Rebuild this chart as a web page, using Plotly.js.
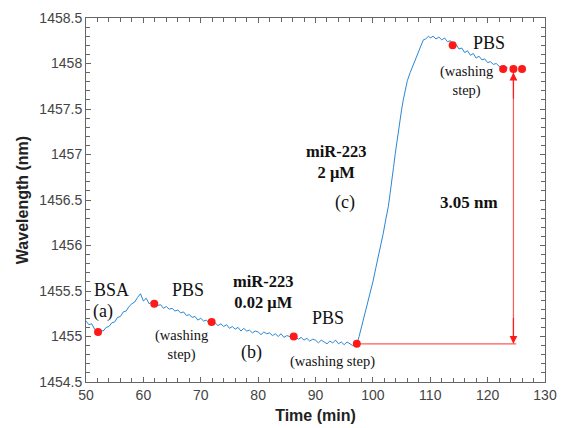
<!DOCTYPE html>
<html>
<head>
<meta charset="utf-8">
<script src="https://cdn.plot.ly/plotly-3.0.1.min.js"></script>
<style>html,body{margin:0;padding:0;background:#fff;}#chart{width:569px;height:428px;}</style>
</head>
<body>
<div id="chart"></div>
<script>
// Sensor trace (time in min, resonance wavelength in nm)
const timeMin = [
  50.0,50.5,51.0,51.5,52.0,52.5,53.0,53.5,54.0,54.5,55.0,55.5,56.0,56.5,57.0,57.5,58.0,58.5,59.0,59.5,
  60.0,60.5,61.0,61.5,62.0,62.5,63.0,63.5,64.0,64.5,65.0,65.5,66.0,66.5,67.0,67.5,68.0,68.5,69.0,69.5,
  70.0,70.5,71.0,71.5,72.0,72.5,73.0,73.5,74.0,74.5,75.0,75.5,76.0,76.5,77.0,77.5,78.0,78.5,79.0,79.5,
  80.0,80.5,81.0,81.5,82.0,82.5,83.0,83.5,84.0,84.5,85.0,85.5,86.0,86.5,87.0,87.5,88.0,88.5,89.0,89.5,
  90.0,90.5,91.0,91.5,92.0,92.5,93.0,93.5,94.0,94.5,95.0,95.5,96.0,96.5,97.0,97.2,
  97.6,98.0,98.5,98.9,99.5,100.0,100.5,101.1,101.5,101.8,102.2,102.7,103.0,103.3,103.6,103.9,104.3,104.7,
  105.0,105.3,105.6,106.0,106.5,107.0,107.5,107.9,108.4,108.8,109.2,109.7,
  110.0,110.5,111.0,111.5,112.0,112.5,113.0,113.5,114.0,114.5,115.0,115.5,116.0,116.5,117.0,117.5,
  118.0,118.5,119.0,119.5,120.0,120.5,121.0,121.5,122.0,122.5,123.0,123.5
];
const wavelengthNm = [
  1455.17,1455.13,1455.14,1455.08,1455.05,1455.07,1455.06,1455.10,1455.11,1455.15,1455.16,1455.21,1455.22,1455.27,1455.28,1455.33,1455.36,1455.38,1455.43,1455.47,
  1455.39,1455.42,1455.36,1455.38,1455.35,1455.34,1455.35,1455.31,1455.33,1455.30,1455.31,1455.28,1455.29,1455.26,1455.27,1455.23,1455.24,1455.21,1455.22,1455.18,
  1455.20,1455.17,1455.18,1455.14,1455.16,1455.15,1455.12,1455.14,1455.11,1455.13,1455.09,1455.11,1455.08,1455.10,1455.06,1455.09,1455.06,1455.07,1455.04,1455.06,
  1455.05,1455.02,1455.05,1455.03,1455.04,1455.01,1455.03,1455.00,1455.03,1454.99,1455.01,1455.00,1454.99,1455.00,1454.97,1454.99,1454.96,1454.98,1454.95,1454.97,
  1454.96,1454.93,1454.96,1454.94,1454.92,1454.95,1454.93,1454.96,1454.92,1454.94,1454.91,1454.94,1454.92,1454.90,1454.93,1454.92,
  1455.00,1455.10,1455.20,1455.32,1455.46,1455.60,1455.75,1455.91,1456.04,1456.13,1456.27,1456.43,1456.57,1456.69,1456.86,1457.01,1457.20,1457.37,
  1457.49,1457.60,1457.70,1457.81,1457.90,1457.98,1458.05,1458.11,1458.19,1458.26,1458.27,1458.30,
  1458.28,1458.30,1458.27,1458.29,1458.26,1458.28,1458.24,1458.25,1458.20,1458.21,1458.16,1458.17,1458.12,1458.14,1458.09,1458.11,
  1458.06,1458.08,1458.04,1458.05,1458.01,1458.02,1457.99,1458.00,1457.97,1457.96,1457.97,1457.95
];
// Red step markers
const stepTime = [52.1, 61.9, 71.9, 86.2, 97.2, 113.9, 122.7, 124.5, 126.0];
const stepWavelength = [1455.05, 1455.36, 1455.16, 1455.00, 1454.92, 1458.20, 1457.94, 1457.94, 1457.94];
// Shift measurement (3.05 nm)
const shiftX = 124.5;
const shiftBaseFrom = 97.2;
const shiftBaseTo = 125.0;
const shiftLow = 1454.92;
const shiftHigh = 1457.90;
const shiftLabel = '<b>3.05 nm</b>';

const blue = '#2a87d3';
const red = '#ff1a1a';
const serif = 'Liberation Serif, Times New Roman, serif';

const traces = [
  {x: [shiftBaseFrom, shiftBaseTo], y: [shiftLow, shiftLow], mode: 'lines',
   line: {color: '#ff5a5a', width: 1.2}, hoverinfo: 'skip', showlegend: false},
  {x: [shiftX, shiftX], y: [shiftLow, shiftHigh], mode: 'lines',
   line: {color: '#ff5a5a', width: 1.2}, hoverinfo: 'skip', showlegend: false},
  {x: timeMin, y: wavelengthNm, mode: 'lines', line: {color: blue, width: 1}, showlegend: false},
  {x: stepTime, y: stepWavelength, mode: 'markers', marker: {color: red, size: 8}, showlegend: false}
];

function txt(x, y, text, size, extra) {
  return Object.assign({x: x, y: y, xref: 'x', yref: 'y', text: text, showarrow: false,
    font: {family: serif, size: size, color: '#111'}, xanchor: 'center', yanchor: 'middle'}, extra || {});
}

const annotations = [
  txt(54.5, 1455.51, 'BSA', 18),
  txt(52.9, 1455.28, '(a)', 18),
  txt(67.8, 1455.51, 'PBS', 18),
  txt(66.6, 1454.91, '(washing<br>step)', 14.5),
  txt(80.9, 1455.49, '<b>miR-223<br>0.02 μM</b>', 16.5),
  txt(78.9, 1454.82, '(b)', 18),
  txt(92.2, 1455.20, 'PBS', 18),
  txt(93.0, 1454.72, '(washing step)', 14.5),
  txt(93.6, 1456.92, '<b>miR-223<br>2 μM</b>', 16.5),
  txt(95.1, 1456.47, '(c)', 18),
  txt(116.8, 1456.47, shiftLabel, 17),
  txt(120.2, 1458.23, 'PBS', 18),
  txt(116.4, 1457.81, '(washing<br>step)', 14.5),
  // arrowheads at the ends of the vertical shift line
  {x: shiftX, y: shiftLow, ax: shiftX, ay: shiftLow + 0.3, xref: 'x', yref: 'y', axref: 'x', ayref: 'y',
   showarrow: true, arrowhead: 2, arrowsize: 1.3, arrowwidth: 1.2, arrowcolor: red, text: ''},
  {x: shiftX, y: shiftHigh, ax: shiftX, ay: shiftHigh - 0.3, xref: 'x', yref: 'y', axref: 'x', ayref: 'y',
   showarrow: true, arrowhead: 2, arrowsize: 1.3, arrowwidth: 1.2, arrowcolor: red, text: ''}
];

const axisCommon = {
  ticks: 'inside', ticklen: 5, tickwidth: 1, tickcolor: '#666',
  showline: true, linecolor: '#666', linewidth: 1, mirror: 'ticks',
  showgrid: false, zeroline: false, automargin: false,
  tickfont: {family: 'Liberation Sans, Arial, sans-serif', size: 14, color: '#444'}
};

const layout = {
  width: 569, height: 428,
  margin: {l: 86, r: 24, t: 18, b: 46},
  paper_bgcolor: '#fff', plot_bgcolor: '#fff',
  showlegend: false,
  separators: '.',
  xaxis: Object.assign({}, axisCommon, {
    range: [50, 130], dtick: 10, tick0: 50, tickformat: 'd',
    minor: {ticks: 'inside', dtick: 2, ticklen: 4, tickcolor: '#666', showgrid: false},
    title: {text: '<b>Time (min)</b>', font: {family: 'Liberation Sans, Arial, sans-serif', size: 16, color: '#222'}, standoff: 8}
  }),
  yaxis: Object.assign({}, axisCommon, {
    range: [1454.5, 1458.5], dtick: 0.5, tick0: 1454.5, tickformat: '.1~f',
    minor: {ticks: 'inside', dtick: 0.1, ticklen: 4, tickcolor: '#666', showgrid: false},
    title: {text: '<b>Wavelength (nm)</b>', font: {family: 'Liberation Sans, Arial, sans-serif', size: 16, color: '#222'}, standoff: 6}
  }),
  annotations: annotations
};

Plotly.newPlot('chart', traces, layout, {displayModeBar: false, staticPlot: true});
</script>
</body>
</html>
